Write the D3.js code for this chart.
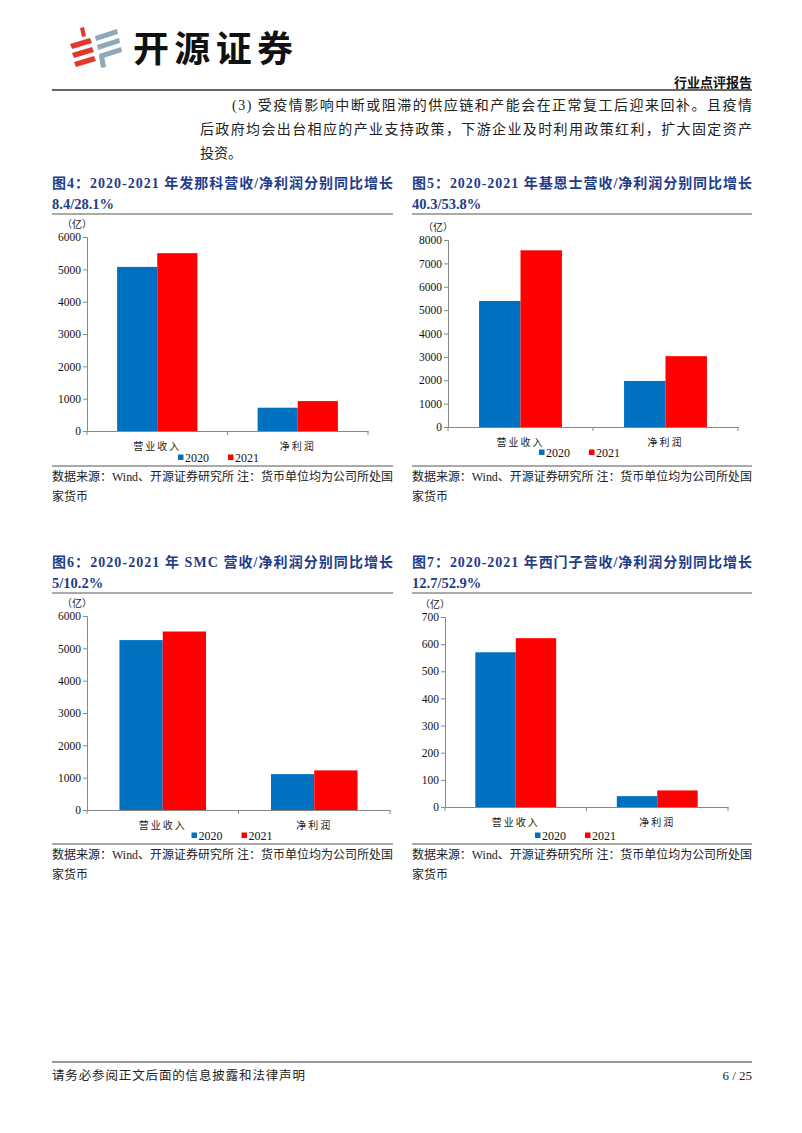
<!DOCTYPE html>
<html>
<head>
<meta charset="utf-8">
<script src="https://cdn.jsdelivr.net/npm/d3@7"></script>
<style>
  body { margin: 0; background: #fff; }
  svg { display: block; }
  text { font-family: "Liberation Serif", "Times New Roman", "Noto Sans CJK SC", serif; }
</style>
</head>
<body>
<svg id="page" width="802" height="1133"></svg>
<script>
// ---------------- DATA ----------------
const categories = ["营业收入", "净利润"];
const seriesNames = ["2020", "2021"];
const seriesColors = ["#0070C0", "#FF0000"];

// Fig 4: FANUC (亿)
const fanuc2020 = [5075, 720];
const fanuc2021 = [5500, 925];
const fanucTicks = [0, 1000, 2000, 3000, 4000, 5000, 6000];

// Fig 5: KEYENCE (亿)
const keyence2020 = [5390, 1970];
const keyence2021 = [7560, 3030];
const keyenceTicks = [0, 1000, 2000, 3000, 4000, 5000, 6000, 7000, 8000];

// Fig 6: SMC (亿)
const smc2020 = [5255, 1110];
const smc2021 = [5520, 1225];
const smcTicks = [0, 1000, 2000, 3000, 4000, 5000, 6000];

// Fig 7: Siemens (亿)
const siemens2020 = [570, 40];
const siemens2021 = [622, 61];
const siemensTicks = [0, 100, 200, 300, 400, 500, 600, 700];

const titles = [
  ["图4：2020-2021 年发那科营收/净利润分别同比增长", "8.4/28.1%"],
  ["图5：2020-2021 年基恩士营收/净利润分别同比增长", "40.3/53.8%"],
  ["图6：2020-2021 年 SMC 营收/净利润分别同比增长", "5/10.2%"],
  ["图7：2020-2021 年西门子营收/净利润分别同比增长", "12.7/52.9%"]
];
const sourceLine1 = "数据来源：Wind、开源证券研究所  注：货币单位均为公司所处国";
const sourceLine2 = "家货币";
const unitLabel = "（亿）";

const paraLines = [
  "(3) 受疫情影响中断或阻滞的供应链和产能会在正常复工后迎来回补。且疫情",
  "后政府均会出台相应的产业支持政策，下游企业及时利用政策红利，扩大固定资产",
  "投资。"
];

// ---------------- PAGE ----------------
const svg = d3.select("#page");
svg.append("rect").attr("width", 802).attr("height", 1133).attr("fill", "#fff");

// Logo (decorative shapes)
const logo = svg.append("g");
const redBars = [[70, 44], [72, 53], [74, 62]];
redBars.forEach(([x, y]) => {
  logo.append("path")
    .attr("d", `M${x},${y} L${x + 20},${y - 6} L${x + 22},${y - 1} L${x + 2},${y + 5} Z`)
    .attr("fill", "#E03A2E");
});
logo.append("path").attr("d", "M80,28 L84,27 L86,36 L82,37 Z").attr("fill", "#E03A2E");
const greyBars = [[95, 36], [97, 45], [99, 54]];
greyBars.forEach(([x, y]) => {
  logo.append("path")
    .attr("d", `M${x},${y} L${x + 22},${y - 7} L${x + 23},${y - 2} L${x + 1},${y + 5} Z`)
    .attr("fill", "#8FA9BA");
});
logo.append("path").attr("d", "M99,56 L104,55 L106,67 L101,68 Z").attr("fill", "#8FA9BA");

svg.append("text")
  .attr("x", 133).attr("y", 62)
  .attr("textLength", 160).attr("lengthAdjust", "spacing")
  .style("font-family", "'Noto Sans CJK SC', sans-serif")
  .style("font-weight", 700).style("font-size", "36px").attr("fill", "#111")
  .text("开源证券");

svg.append("text")
  .attr("x", 752).attr("y", 87).attr("text-anchor", "end")
  .style("font-family", "'Noto Sans CJK SC', sans-serif")
  .style("font-weight", 700).style("font-size", "13px").attr("fill", "#111")
  .text("行业点评报告");

svg.append("line").attr("x1", 52).attr("x2", 752).attr("y1", 90).attr("y2", 90)
  .attr("stroke", "#666").attr("stroke-width", 2);

// Paragraph
const paraX = [232, 200, 200];
const paraY = [110, 134, 158];
paraLines.forEach((t, i) => {
  const tx = svg.append("text")
    .attr("x", paraX[i]).attr("y", paraY[i])
    .style("font-size", "14px").attr("fill", "#222")
    .text(t);
  if (i < 2) tx.attr("textLength", 752 - paraX[i]).attr("lengthAdjust", "spacing");
});

// Footer
svg.append("line").attr("x1", 52).attr("x2", 752).attr("y1", 1062).attr("y2", 1062)
  .attr("stroke", "#333").attr("stroke-width", 1);
svg.append("text").attr("x", 52).attr("y", 1080)
  .style("font-size", "12.5px").attr("fill", "#222")
  .attr("textLength", 253).attr("lengthAdjust", "spacing")
  .text("请务必参阅正文后面的信息披露和法律声明");
svg.append("text").attr("x", 752).attr("y", 1080).attr("text-anchor", "end")
  .style("font-size", "13px").attr("fill", "#222")
  .text("6 / 25");

// ---------------- CHARTS ----------------
const charts = [
  { title: titles[0], s2020: fanuc2020, s2021: fanuc2021, ticks: fanucTicks,
    colX: 52, colR: 393, titleY: 188, x0: 87, x1: 368, yTop: 237, yBot: 431,
    legendX: 178, legendDy: 26, srcY: 481 },
  { title: titles[1], s2020: keyence2020, s2021: keyence2021, ticks: keyenceTicks,
    colX: 412, colR: 752, titleY: 188, x0: 448, x1: 738, yTop: 240, yBot: 427,
    legendX: 539, legendDy: 25, srcY: 481 },
  { title: titles[2], s2020: smc2020, s2021: smc2021, ticks: smcTicks,
    colX: 52, colR: 393, titleY: 567, x0: 87, x1: 390, yTop: 616, yBot: 810,
    legendX: 191.5, legendDy: 25, srcY: 859 },
  { title: titles[3], s2020: siemens2020, s2021: siemens2021, ticks: siemensTicks,
    colX: 412, colR: 752, titleY: 567, x0: 445, x1: 728, yTop: 617, yBot: 807,
    legendX: 535, legendDy: 28, srcY: 859 }
];

charts.forEach(c => {
  const g = svg.append("g");
  const navy = "#1F3C88";
  // title
  g.append("text").attr("x", c.colX).attr("y", c.titleY)
    .attr("textLength", c.colR - c.colX).attr("lengthAdjust", "spacing")
    .style("font-weight", 700).style("font-size", "14px").attr("fill", navy)
    .text(c.title[0]);
  g.append("text").attr("x", c.colX).attr("y", c.titleY + 21)
    .style("font-weight", 700).style("font-size", "14.5px").attr("fill", navy)
    .text(c.title[1]);
  g.append("line").attr("x1", c.colX).attr("x2", c.colR)
    .attr("y1", c.titleY + 26).attr("y2", c.titleY + 26)
    .attr("stroke", "#555").attr("stroke-width", 1);

  // scales
  const yMax = c.ticks[c.ticks.length - 1];
  const y = d3.scaleLinear().domain([0, yMax]).range([c.yBot, c.yTop]);
  const x = d3.scaleBand().domain(categories).range([c.x0, c.x1]).paddingInner(0).paddingOuter(0);
  const xs = d3.scaleBand().domain(seriesNames).range([0, x.bandwidth()]).paddingInner(0).paddingOuter(0.75);

  const values = [c.s2020, c.s2021];
  const rows = categories.map((cat, i) => ({ cat, vals: seriesNames.map((s, j) => ({ s, j, v: values[j][i] })) }));

  // bars
  g.selectAll("g.grp").data(rows).join("g").attr("class", "grp")
    .attr("transform", d => `translate(${x(d.cat)},0)`)
    .selectAll("rect").data(d => d.vals).join("rect")
    .attr("x", d => xs(d.s)).attr("width", xs.bandwidth())
    .attr("y", d => y(d.v)).attr("height", d => y(0) - y(d.v))
    .attr("fill", d => seriesColors[d.j]);

  // y axis
  const yAxis = g.append("g").attr("transform", `translate(${c.x0},0)`)
    .call(d3.axisLeft(y).tickValues(c.ticks).tickFormat(d3.format("d")).tickSize(4).tickPadding(2));
  yAxis.select(".domain").attr("stroke", "#888");
  yAxis.selectAll(".tick line").attr("stroke", "#888");
  yAxis.selectAll(".tick text").style("font-size", "11.5px").attr("fill", "#111")
    .style("font-family", "'Liberation Serif', serif");

  // x axis
  const xAxis = g.append("g").attr("transform", `translate(0,${c.yBot})`)
    .call(d3.axisBottom(x).tickSize(0).tickFormat(() => ""));
  xAxis.select(".domain").attr("stroke", "#888");
  const edges = [c.x0, ...categories.map(cat => x(cat) + x.bandwidth())];
  g.selectAll("line.xt").data(edges).join("line").attr("class", "xt")
    .attr("x1", d => d).attr("x2", d => d)
    .attr("y1", c.yBot).attr("y2", c.yBot + 4).attr("stroke", "#888");

  // category labels
  g.selectAll("text.cat").data(categories).join("text").attr("class", "cat")
    .attr("x", d => x(d) + x.bandwidth() / 2).attr("y", c.yBot + 19)
    .attr("text-anchor", "middle")
    .style("font-size", "10px").style("letter-spacing", "2px").attr("fill", "#222")
    .style("font-family", "'Noto Sans CJK SC', sans-serif")
    .text(d => d);

  // unit
  g.append("text").attr("x", c.x0 - 25).attr("y", c.yTop - 9)
    .style("font-size", "10px").attr("fill", "#222")
    .style("font-family", "'Noto Sans CJK SC', sans-serif")
    .text(unitLabel);

  // legend
  const lg = g.append("g").attr("transform", `translate(${c.legendX},${c.yBot + c.legendDy})`);
  seriesNames.forEach((s, j) => {
    const ox = j * 50;
    lg.append("rect").attr("x", ox).attr("y", -2.5).attr("width", 5.5).attr("height", 5.5)
      .attr("fill", seriesColors[j]);
    lg.append("text").attr("x", ox + 7).attr("y", 4.5)
      .style("font-size", "12px").attr("fill", "#111").text(s);
  });

  // separator and source
  g.append("line").attr("x1", c.colX).attr("x2", c.colR)
    .attr("y1", c.srcY - 15).attr("y2", c.srcY - 15)
    .attr("stroke", "#555").attr("stroke-width", 1);
  g.append("text").attr("x", c.colX).attr("y", c.srcY)
    .attr("textLength", c.colR - c.colX).attr("lengthAdjust", "spacing")
    .style("font-size", "12px").attr("fill", "#222")
    .text(sourceLine1);
  g.append("text").attr("x", c.colX).attr("y", c.srcY + 20)
    .style("font-size", "12px").attr("fill", "#222")
    .text(sourceLine2);
});
</script>
</body>
</html>
